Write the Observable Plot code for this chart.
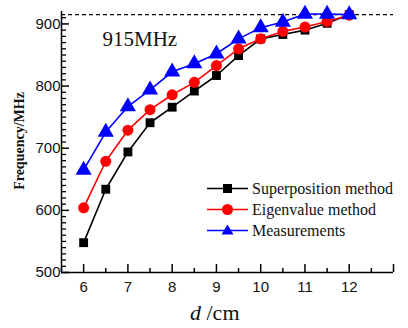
<!DOCTYPE html>
<html>
<head>
<meta charset="utf-8">
<script src="https://cdn.jsdelivr.net/npm/d3@7"></script>
<script src="https://cdn.jsdelivr.net/npm/@observablehq/plot@0.6"></script>
<style>
  html, body { margin: 0; padding: 0; background: #fff; }
  #wrap { position: relative; width: 408px; height: 328px; }
  #legend { position: absolute; left: 207px; top: 178px; font-family: "Liberation Serif", serif; font-size: 16px; color: #111; }
  #legend .row { display: flex; align-items: center; height: 21px; }
  #legend svg { margin-right: 4px; }
  #xlabel { position: absolute; left: 190px; top: 300px; font-family: "Liberation Serif", serif; font-size: 22px; color: #111; }
  #ylabel { position: absolute; left: 20px; top: 141px; transform: translate(-50%, -50%) rotate(-90deg); font-family: "Liberation Serif", serif; font-weight: bold; font-size: 14px; color: #111; white-space: nowrap; }
</style>
</head>
<body>
<div id="wrap">
  <div id="chart"></div>
  <div id="legend"></div>
  <div id="xlabel"><i>d</i> /cm</div>
  <div id="ylabel">Frequency/MHz</div>
</div>
<script>
const d = [6, 6.5, 7, 7.5, 8, 8.5, 9, 9.5, 10, 10.5, 11, 11.5, 12];
const superposition = [548, 634, 694, 741, 766, 792, 817, 849, 876, 883, 890, 901, 915];
const eigenvalue    = [604, 679, 729, 762, 786, 806, 833, 860, 876, 888, 895, 904, 914];
const measurements  = [665, 726, 767, 794, 823, 836, 852, 876, 894, 903, 916, 916, 915];
const seriesNames = ["Superposition method", "Eigenvalue method", "Measurements"];
const seriesColors = ["#000000", "#ff0000", "#0000ff"];
const seriesSymbols = ["square", "circle", "triangle"];
const xTicks = [6, 7, 8, 9, 10, 11, 12, 13];
const xTickLabels = [6, 7, 8, 9, 10, 11, 12];
const xMinor = [5.5, 6.5, 7.5, 8.5, 9.5, 10.5, 11.5, 12.5];
const yTicks = [500, 600, 700, 800, 900];
const yMinor = d3.range(510, 920, 10).filter(v => v % 100 !== 0);
const threshold = 915;
const thresholdLabel = "915MHz";
const xMin = 5.5, xMax = 13, yMin = 500, yMax = 920;
const W = 408, H = 328, mL = 61, mR = 15, mT = 11, mB = 56;
const plotW = W - mL - mR, plotH = H - mT - mB;
const allSeries = [superposition, eigenvalue, measurements];
const rows = allSeries.flatMap((vals, i) => vals.map((v, j) => ({x: d[j], y: v, s: seriesNames[i]})));
const marks = [];
marks.push(Plot.ruleY([threshold], {stroke: "#000", strokeWidth: 1.3, strokeDasharray: "4,3"}));
marks.push(Plot.text([thresholdLabel], {frameAnchor: "top-left", dx: 41, dy: 20, text: t => t, textAnchor: "start", fontFamily: "Liberation Serif", fontSize: 21, fill: "#111"}));
seriesNames.forEach((name, i) => {
  const data = rows.filter(r => r.s === name);
  marks.push(Plot.line(data, {x: "x", y: "y", stroke: seriesColors[i], strokeWidth: 1.6}));
  marks.push(Plot.dot(data, {x: "x", y: "y", symbol: () => seriesSymbols[i], fill: seriesColors[i], stroke: "none", r: i === 2 ? 6 : (i === 1 ? 5.5 : 5)}));
});
marks.push(Plot.ruleX([xMin], {stroke: "#000", strokeWidth: 1.5}));
marks.push(Plot.ruleY([yMin], {stroke: "#000", strokeWidth: 1.5}));
marks.push(Plot.ruleX(xTicks, {stroke: "#000", strokeWidth: 1.5, insetTop: plotH - 8}));
marks.push(Plot.ruleX(xMinor, {stroke: "#000", strokeWidth: 1.5, insetTop: plotH - 4}));
marks.push(Plot.ruleY(yTicks, {stroke: "#000", strokeWidth: 1.5, insetRight: plotW - 8}));
marks.push(Plot.ruleY(yMinor, {stroke: "#000", strokeWidth: 1.3, insetRight: plotW - 5}));
marks.push(Plot.axisX(xTickLabels, {tickSize: 0, tickPadding: 9, label: null, fontSize: 15, fill: "#111"}));
marks.push(Plot.axisY(yTicks, {tickSize: 0, tickPadding: 1, label: null, fontSize: 15, fill: "#111"}));
const chart = Plot.plot({
  width: W, height: H, marginLeft: mL, marginRight: mR, marginTop: mT, marginBottom: mB,
  style: {fontFamily: "Liberation Sans, Arial, sans-serif", fontSize: "15px", background: "#fff", color: "#000"},
  x: {domain: [xMin, xMax], axis: null},
  y: {domain: [yMin, yMax], axis: null},
  marks
});
document.getElementById("chart").appendChild(chart);
const legend = document.getElementById("legend");
const symbolPaths = {
  square: '<rect x="16" y="6" width="9" height="9"/>',
  circle: '<circle cx="20.5" cy="10.5" r="5.5"/>',
  triangle: '<path d="M20.5,4.5 L26.5,14.5 L14.5,14.5 Z"/>'
};
seriesNames.forEach((name, i) => {
  const row = document.createElement("div");
  row.className = "row";
  row.innerHTML = `<svg width="41" height="21"><line x1="0" x2="41" y1="10.5" y2="10.5" stroke="${seriesColors[i]}" stroke-width="1.6"/><g fill="${seriesColors[i]}">${symbolPaths[seriesSymbols[i]]}</g></svg><span>${name}</span>`;
  legend.appendChild(row);
});
</script>
</body>
</html>
